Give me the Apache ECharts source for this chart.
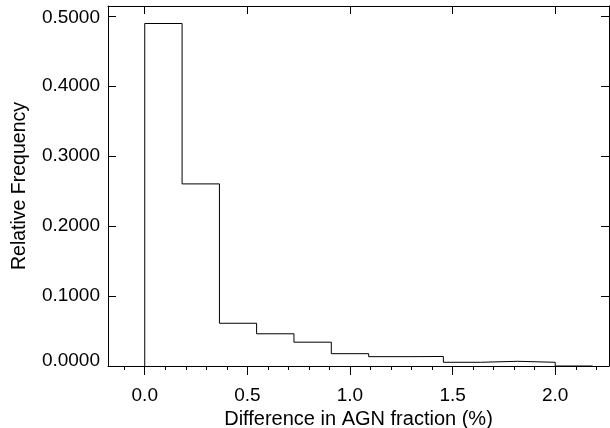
<!DOCTYPE html>
<html>
<head>
<meta charset="utf-8">
<script src="https://cdn.jsdelivr.net/npm/echarts@6/dist/echarts.min.js"></script>
<style>
  html, body { margin: 0; padding: 0; background: #fff; }
  #chart { width: 610px; height: 428px; }
</style>
</head>
<body>
<div id="chart"></div>
<script>
// histogram bin edges and relative frequency per bin
const binEdges = [0, 0.182, 0.364, 0.545, 0.727, 0.909, 1.091, 1.273, 1.455, 1.636, 1.818, 2.0, 2.182];
const frequencies = [0.489, 0.260, 0.061, 0.046, 0.034, 0.0176, 0.0133, 0.0136, 0.0053, 0.0067, 0.0053, 0];

const xMajorTicks = [0, 0.5, 1.0, 1.5, 2.0];
const xMinorTicks = [-0.1, 0, 0.1, 0.2, 0.3, 0.4, 0.5, 0.6, 0.7, 0.8, 0.9, 1.0, 1.1, 1.2, 1.3, 1.4, 1.5, 1.6, 1.7, 1.8, 1.9, 2.0, 2.1, 2.2];
const yTicks = [0, 0.1, 0.2, 0.3, 0.4, 0.5];

const chart = echarts.init(document.getElementById("chart"));

// step line: start at 0, then one point per bin left edge, close at last edge
const stepData = [[binEdges[0], 0]];
for (let i = 0; i < frequencies.length; i++) {
  stepData.push([binEdges[i], frequencies[i]]);
}
stepData.push([binEdges[binEdges.length - 1], frequencies[frequencies.length - 1]]);

const font = "Liberation Sans";
const xMin = -0.179;
const xMax = 2.262;
const yMin = 0;
const yMax = 0.514;
const black = "#000";

// end labels on the y axis sit slightly inward, like the original plot
const labelText = { fontFamily: font, fontSize: 19, color: black };
function yLabel(v) {
  const s = v.toFixed(4);
  if (v === yTicks[0]) return "{low|" + s + "}";
  if (v === yTicks[yTicks.length - 1]) return "{high|" + s + "}";
  return s;
}

const option = {
  backgroundColor: "#ffffff",
  animation: false,
  grid: { left: 108, right: 1, top: 6, bottom: 62, containLabel: false, outerBoundsMode: "none" },
  xAxis: [
    {
      type: "value", position: "bottom", min: xMin, max: xMax,
      name: "Difference in AGN fraction (%)",
      nameLocation: "middle", nameGap: 34,
      nameTextStyle: { fontFamily: font, fontSize: 20, color: black },
      axisLine: { show: true, onZero: false, lineStyle: { color: black, width: 1 } },
      axisTick: { show: true, inside: false, length: 9, customValues: xMajorTicks, lineStyle: { color: black } },
      axisLabel: {
        show: true, customValues: xMajorTicks, margin: 20,
        fontFamily: font, fontSize: 19, color: black,
        formatter: v => v.toFixed(1)
      },
      splitLine: { show: false }
    },
    {
      type: "value", position: "bottom", min: xMin, max: xMax,
      axisLine: { show: false, onZero: false },
      axisTick: { show: true, inside: false, length: 4, customValues: xMinorTicks, lineStyle: { color: black } },
      axisLabel: { show: false },
      splitLine: { show: false }
    },
    {
      type: "value", position: "top", min: xMin, max: xMax,
      axisLine: { show: true, onZero: false, lineStyle: { color: black, width: 1 } },
      axisTick: { show: true, inside: true, length: 8, customValues: xMajorTicks, lineStyle: { color: black } },
      axisLabel: { show: false },
      splitLine: { show: false }
    }
  ],
  yAxis: [
    {
      type: "value", position: "left", min: yMin, max: yMax,
      name: "Relative Frequency",
      nameLocation: "middle", nameGap: 78,
      nameTextStyle: { fontFamily: font, fontSize: 19.5, color: black },
      axisLine: { show: true, onZero: false, lineStyle: { color: black, width: 1 } },
      axisTick: { show: true, inside: true, length: 8, customValues: yTicks, lineStyle: { color: black } },
      axisLabel: {
        show: true, customValues: yTicks, margin: 8,
        fontFamily: font, fontSize: 19, color: black,
        formatter: yLabel,
        rich: {
          low: Object.assign({ padding: [0, 0, 11, 0] }, labelText),
          high: Object.assign({ padding: [4, 0, 0, 0] }, labelText)
        }
      },
      splitLine: { show: false }
    },
    {
      type: "value", position: "right", min: yMin, max: yMax,
      axisLine: { show: true, onZero: false, lineStyle: { color: black, width: 1 } },
      axisTick: { show: true, inside: true, length: 8, customValues: yTicks, lineStyle: { color: black } },
      axisLabel: { show: false },
      splitLine: { show: false }
    }
  ],
  series: [
    {
      type: "line",
      xAxisIndex: 0,
      yAxisIndex: 0,
      step: "end",
      showSymbol: false,
      symbol: "none",
      lineStyle: { color: black, width: 1 },
      data: stepData
    }
  ]
};

chart.setOption(option);
</script>
</body>
</html>
